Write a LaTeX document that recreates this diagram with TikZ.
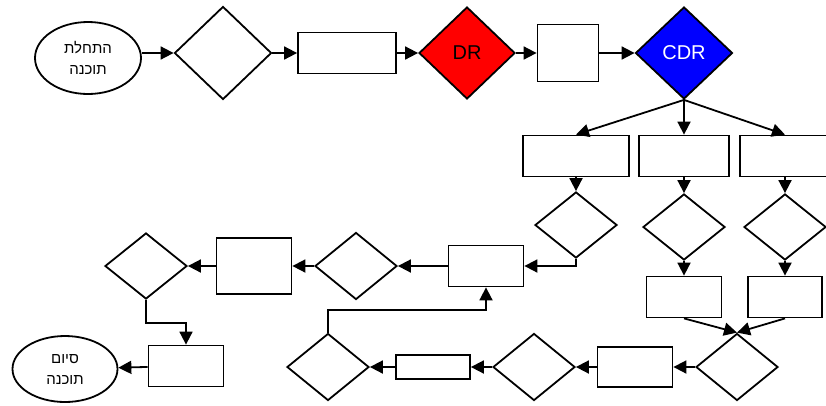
\documentclass[tikz,border=0pt]{standalone}
\usepackage{fontspec}
\setmainfont{Liberation Sans}
\newfontfamily\hebfont[Script=Hebrew]{Liberation Sans}
\TeXXeTstate=1
\usetikzlibrary{shapes.geometric,arrows.meta}

\newcommand{\rowTop}{53}
\newcommand{\rowMid}{266}
\newcommand{\rowBot}{367}

\begin{document}
\begin{tikzpicture}[x=1pt,y=-1pt,line width=1.8pt,
    box/.style={draw,rectangle,inner sep=0},
    dia/.style={draw,diamond,inner sep=0,minimum width=82,minimum height=66},
    oval/.style={draw,ellipse,inner sep=0,align=center,font=\hebfont\fontsize{15}{21}\selectfont},
    arr/.style={-{Triangle[length=13pt,width=13pt]}}]
    \useasboundingbox (0,0) rectangle (826,405);

    % top row
    \node[oval,minimum width=106,minimum height=72] (start) at (88,58) {\beginR התחלת\endR\\\beginR תוכנה\endR};
    \node[dia,minimum width=97,minimum height=93] (d1) at (223,\rowTop) {};
    \node[box,minimum width=98,minimum height=41] (b1) at (347,\rowTop) {};
    \node[dia,fill=red,minimum width=96,minimum height=92,font=\fontsize{20}{24}\selectfont] (dr) at (467,\rowTop) {DR};
    \node[box,minimum width=61,minimum height=57] (b2) at (568,\rowTop) {};
    \node[dia,fill=blue,text=white,minimum width=97,minimum height=92,font=\fontsize{20}{24}\selectfont] (cdr) at (684,\rowTop) {CDR};

    % three branches
    \node[box,minimum width=106,minimum height=41] (bA) at (576,156) {};
    \node[box,minimum width=90,minimum height=41] (bB) at (684,156) {};
    \node[box,minimum width=90,minimum height=41] (bC) at (785,156) {};
    \node[dia] (dA) at (576,225) {};
    \node[dia] (dB) at (684,227) {};
    \node[dia] (dC) at (785,227) {};
    \node[box,minimum width=75,minimum height=41] (bB2) at (684,297) {};
    \node[box,minimum width=74,minimum height=41] (bC2) at (785,297) {};

    % bottom row
    \node[dia,minimum height=67] (dD) at (737,\rowBot) {};
    \node[box,minimum width=75,minimum height=40] (bE) at (635,\rowBot) {};
    \node[dia,minimum height=67] (dF) at (534,\rowBot) {};
    \node[box,minimum width=74,minimum height=24] (bG) at (433,\rowBot) {};
    \node[dia,minimum height=67] (dH) at (328,\rowBot) {};

    % middle row
    \node[box,minimum width=75,minimum height=41] (bM) at (486,\rowMid) {};
    \node[dia,minimum height=67] (dI) at (356,\rowMid) {};
    \node[box,minimum width=75,minimum height=56] (bJ) at (254,\rowMid) {};
    \node[dia] (dK) at (146,\rowMid) {};
    \node[box,minimum width=75,minimum height=41] (bL) at (186,366) {};
    \node[oval,minimum width=105,minimum height=66] (finish) at (65,369) {\beginR סיום\endR\\\beginR תוכנה\endR};

    % connectors
    \draw[arr] (start.east |- d1.west) -- (d1.west);
    \draw[arr] (d1) -- (b1);
    \draw[arr] (b1) -- (dr);
    \draw[arr] (dr) -- (b2);
    \draw[arr] (b2) -- (cdr);
    \draw[arr] (cdr.south) -- (bA.north);
    \draw[arr] (cdr.south) -- (bB.north);
    \draw[arr] (cdr.south) -- (bC.north);
    \draw[arr] (bA) -- (dA);
    \draw[arr] (bB) -- (dB);
    \draw[arr] (bC) -- (dC);
    \draw[arr] (dA.south) |- (bM.east);
    \draw[arr] (dB) -- (bB2);
    \draw[arr] (dC) -- (bC2);
    \draw[arr] (bB2.south) -- (dD.north);
    \draw[arr] (bC2.south) -- (dD.north);
    \draw[arr] (dD) -- (bE);
    \draw[arr] (bE) -- (dF);
    \draw[arr] (dF) -- (bG);
    \draw[arr] (bG) -- (dH);
    \draw[arr] (dH.north) -- ++(0,-23) -| (bM.south);
    \draw[arr] (bM) -- (dI);
    \draw[arr] (dI) -- (bJ);
    \draw[arr] (bJ) -- (dK);
    \draw[arr] (dK.south) -- ++(0,23) -| (bL.north);
    \draw[arr] (bL) -- (finish);
  \end{tikzpicture}
\end{document}
